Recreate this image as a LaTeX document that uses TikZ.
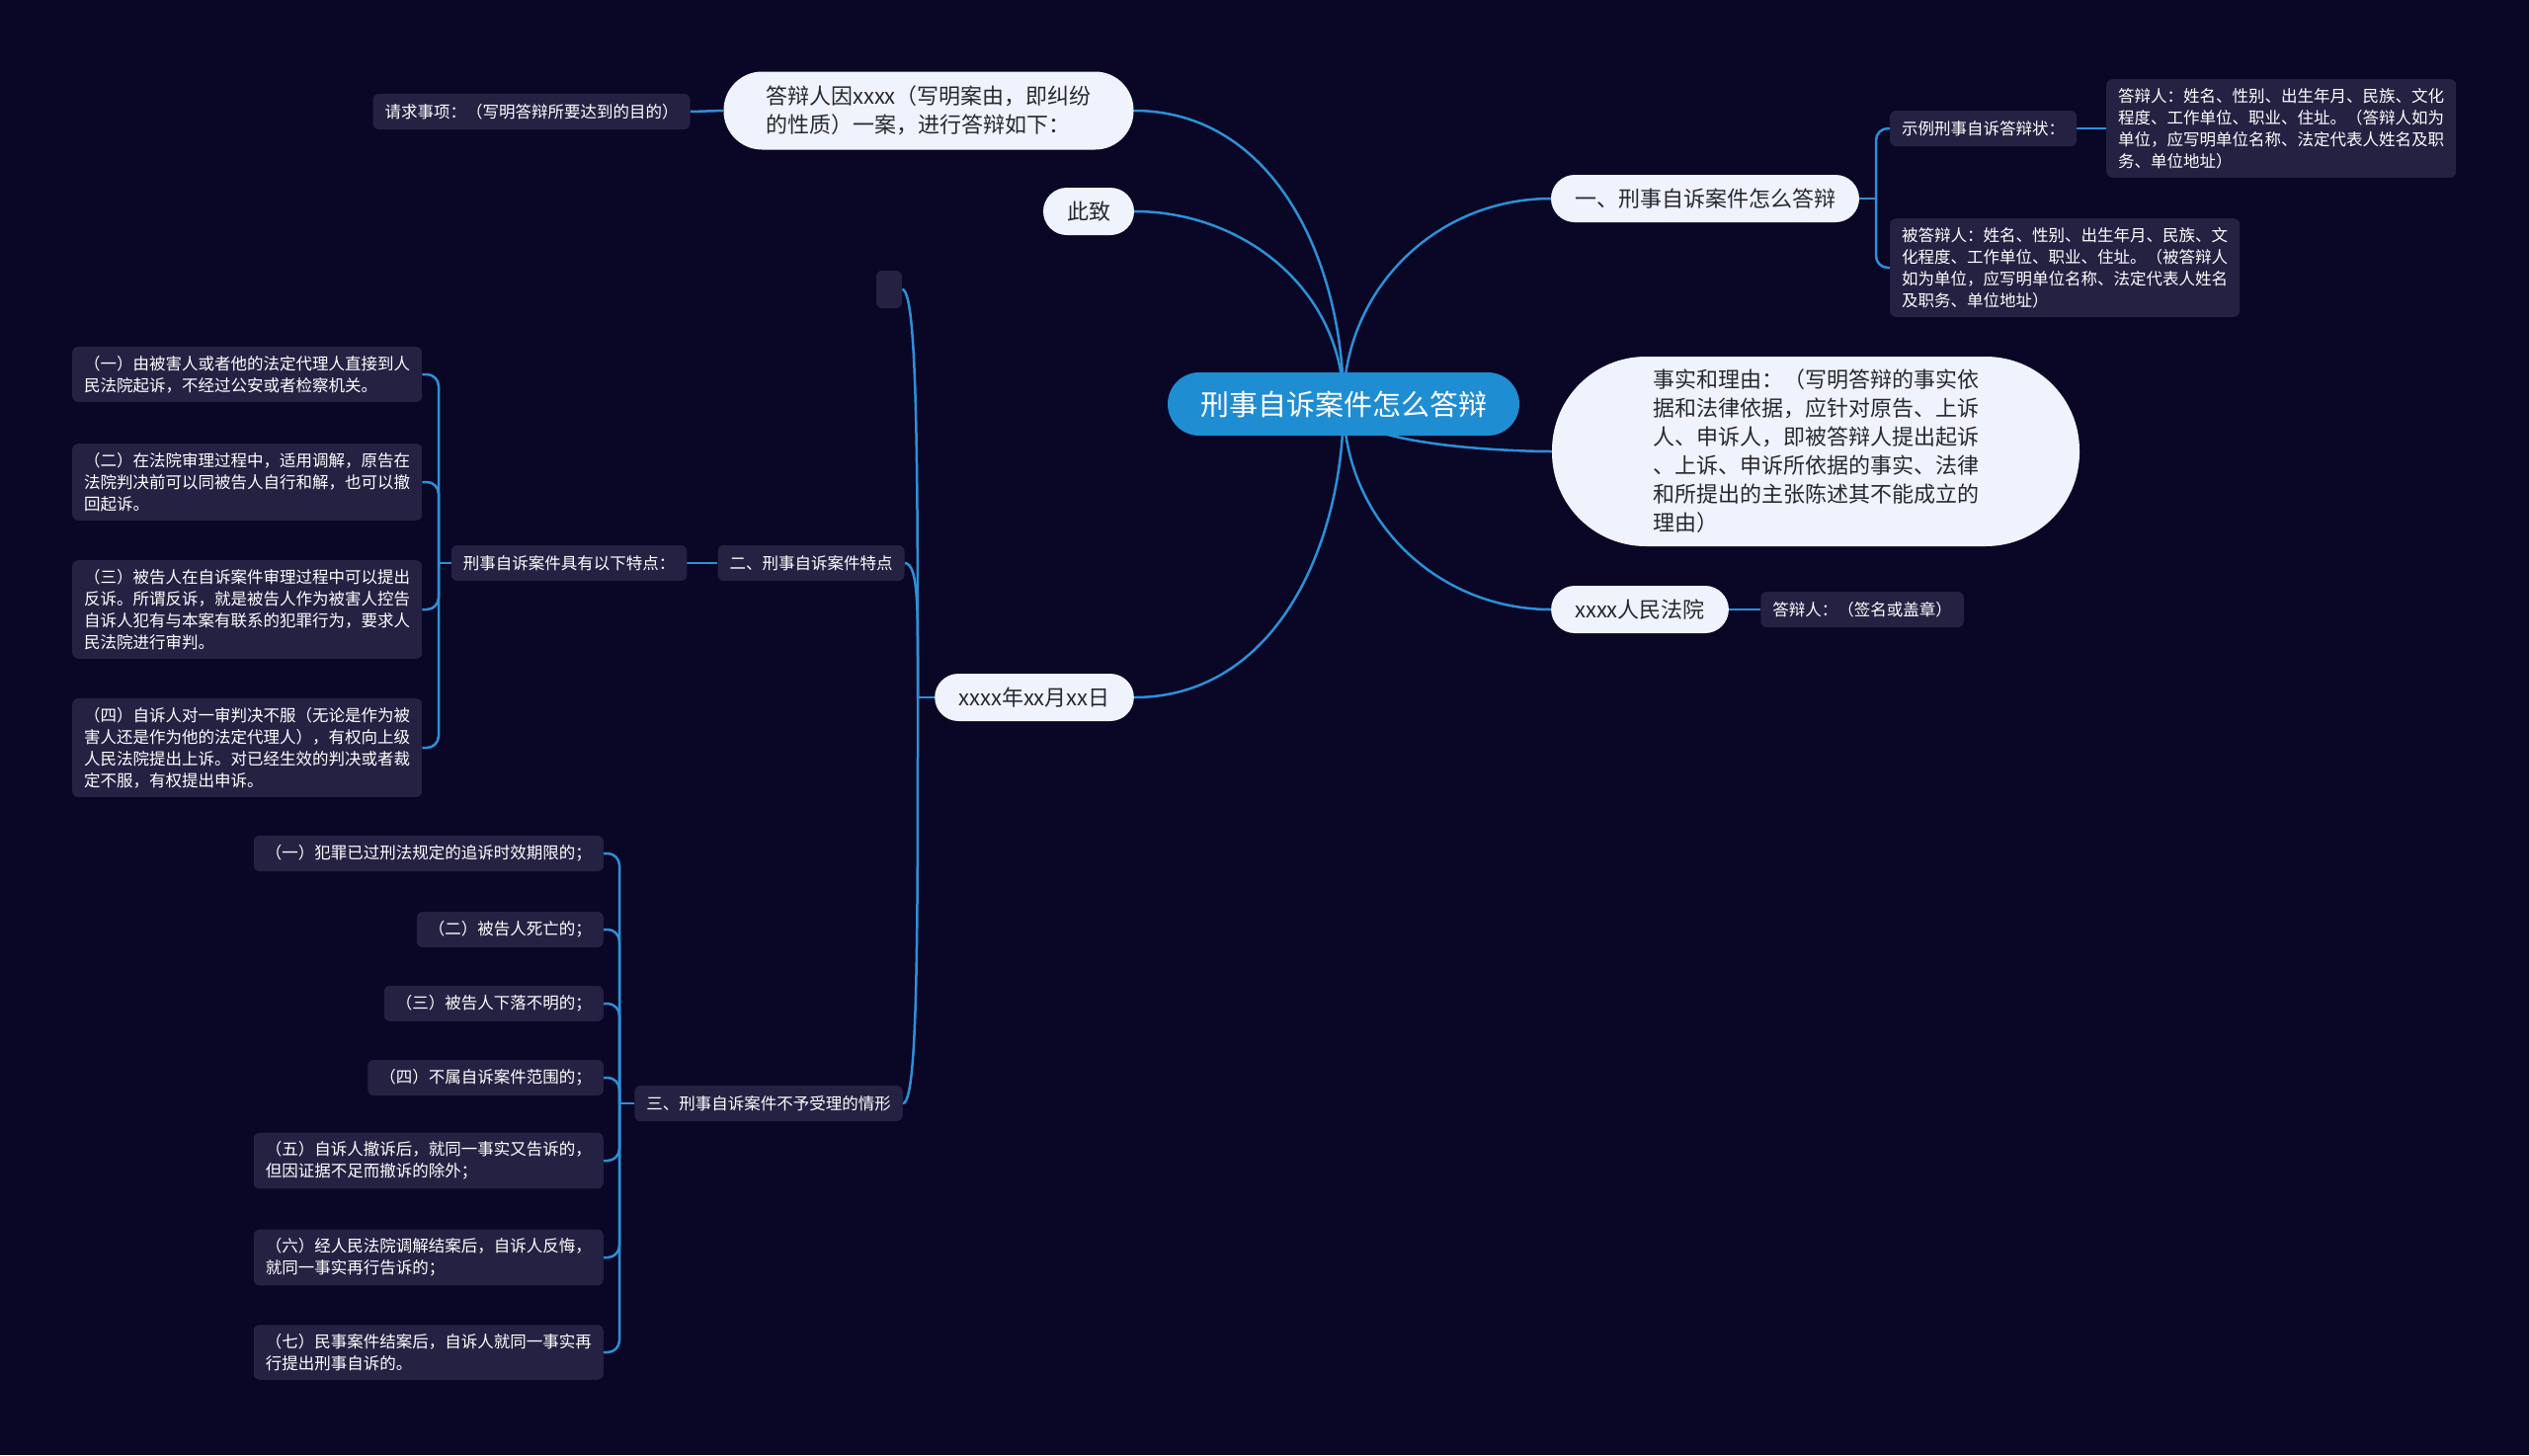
\documentclass[tikz,border=0pt]{standalone}
\usepackage{fontspec}
\setmainfont{Noto Sans CJK SC}
\usetikzlibrary{positioning}
\definecolor{bgc}{RGB}{9,6,38}
\definecolor{boxc}{RGB}{37,33,66}
\definecolor{pillc}{RGB}{238,243,253}
\definecolor{rootc}{RGB}{31,141,210}
\definecolor{linec}{RGB}{44,144,214}
\definecolor{inkc}{RGB}{40,40,48}
\pgfdeclarelayer{back}
\pgfsetlayers{back,main}

\begin{document}
\begin{tikzpicture}[x=1pt, y=-1pt,
    rootbox/.style={fill=rootc, text=white, rounded corners=32pt, minimum width=356pt, minimum height=64pt, inner sep=0pt, font=\fontsize{29}{34}\selectfont},
    pill/.style={fill=pillc, text=inkc, rounded corners=24pt, minimum height=48pt, inner xsep=24pt, inner ysep=12pt, align=left, font=\fontsize{22}{29}\selectfont},
    leaf/.style={fill=boxc, text=white, rounded corners=6pt, minimum height=36pt, inner xsep=12pt, inner ysep=9pt, align=left, font=\fontsize{16.5}{22}\selectfont},
    link/.style={draw=linec, line width=2.5pt}]
    \begin{pgfonlayer}{back}
      \fill[bgc] (0,0) rectangle (2560,1473);
    \end{pgfonlayer}
    \useasboundingbox (0,0) rectangle (2560,1473);
    % centre
    \node[rootbox] (root) at (1360,409) {刑事自诉案件怎么答辩};
    % upper left
    \node[pill, minimum width=415pt, minimum height=79pt, rounded corners=39pt] (reply) at (940,112) {答辩人因xxxx（写明案由，即纠纷\\的性质）一案，进行答辩如下：};
    \node[leaf] (request) at (538,113) {请求事项：（写明答辩所要达到的目的）};
    \node[pill] (salute) at (1102,214) {此致};
    \node[pill] (date) at (1047,706) {xxxx年xx月xx日};
    \node[leaf, minimum width=26pt, minimum height=38pt, inner sep=0pt] (blank) at (900,293) {};
    % features
    \node[leaf] (feat) at (821,570) {二、刑事自诉案件特点};
    \node[leaf] (featlist) at (576,570) {刑事自诉案件具有以下特点：};
    \node[leaf, anchor=west] (f1) at (73,379) {（一）由被害人或者他的法定代理人直接到人\\民法院起诉，不经过公安或者检察机关。};
    \node[leaf, anchor=west] (f2) at (73,488) {（二）在法院审理过程中，适用调解，原告在\\法院判决前可以同被告人自行和解，也可以撤\\回起诉。};
    \node[leaf, anchor=west] (f3) at (73,617) {（三）被告人在自诉案件审理过程中可以提出\\反诉。所谓反诉，就是被告人作为被害人控告\\自诉人犯有与本案有联系的犯罪行为，要求人\\民法院进行审判。};
    \node[leaf, anchor=west] (f4) at (73,757) {（四）自诉人对一审判决不服（无论是作为被\\害人还是作为他的法定代理人），有权向上级\\人民法院提出上诉。对已经生效的判决或者裁\\定不服，有权提出申诉。};
    % rejections
    \node[leaf] (reject) at (778,1117) {三、刑事自诉案件不予受理的情形};
    \node[leaf, anchor=east] (r1) at (611,864) {（一）犯罪已过刑法规定的追诉时效期限的；};
    \node[leaf, anchor=east] (r2) at (611,941) {（二）被告人死亡的；};
    \node[leaf, anchor=east] (r3) at (611,1016) {（三）被告人下落不明的；};
    \node[leaf, anchor=east] (r4) at (611,1091) {（四）不属自诉案件范围的；};
    \node[leaf, anchor=east] (r5) at (611,1175) {（五）自诉人撤诉后，就同一事实又告诉的，\\但因证据不足而撤诉的除外；};
    \node[leaf, anchor=east] (r6) at (611,1273) {（六）经人民法院调解结案后，自诉人反悔，\\就同一事实再行告诉的；};
    \node[leaf, anchor=east] (r7) at (611,1369) {（七）民事案件结案后，自诉人就同一事实再\\行提出刑事自诉的。};
    % right side
    \node[pill] (how) at (1726,201) {一、刑事自诉案件怎么答辩};
    \node[leaf, anchor=west] (sample) at (1913,130) {示例刑事自诉答辩状：};
    \node[leaf, anchor=west] (replier) at (2132,130) {答辩人：姓名、性别、出生年月、民族、文化\\程度、工作单位、职业、住址。（答辩人如为\\单位，应写明单位名称、法定代表人姓名及职\\务、单位地址）};
    \node[leaf, anchor=west] (respondent) at (1913,271) {被答辩人：姓名、性别、出生年月、民族、文\\化程度、工作单位、职业、住址。（被答辩人\\如为单位，应写明单位名称、法定代表人姓名\\及职务、单位地址）};
    \node[pill, minimum width=534pt, minimum height=192pt, rounded corners=95pt] (facts) at (1838,457) {事实和理由：（写明答辩的事实依\\据和法律依据，应针对原告、上诉\\人、申诉人，即被答辩人提出起诉\\、上诉、申诉所依据的事实、法律\\和所提出的主张陈述其不能成立的\\理由）};
    \node[pill] (court) at (1660,617) {xxxx人民法院};
    \node[leaf] (sign) at (1885,617) {答辩人：（签名或盖章）};
    \begin{pgfonlayer}{back}
      % from the centre
      \draw[link] (root.center) .. controls +(0,-143) and +(143,0) .. (reply.east);
      \draw[link] (root.center) .. controls +(0,-113) and +(113,0) .. (salute.east);
      \draw[link] (root.center) .. controls +(0,-116) and +(-116,0) .. (how.west);
      \draw[link] (root.center) .. controls +(0,42) and +(-42,0) .. (facts.west);
      \draw[link] (root.center) .. controls +(0,116) and +(-116,0) .. (court.west);
      \draw[link] (root.center) .. controls +(0,143) and +(143,0) .. (date.east);
      % short links
      \draw[link] (request.east) -- (reply.west);
      \draw[link] (court.east) -- (sign.west);
      \draw[link] (sample.east) -- (replier.west);
      \draw[link] (featlist.east) -- (feat.west);
      % date branch
      \coordinate (dj) at (929,706);
      \draw[link] (date.west) -- (dj);
      \draw[link] (blank.east) .. controls +(15,0) and +(0,-248) .. (dj);
      \draw[link] (feat.east) .. controls +(15,0) and +(0,-82) .. (dj);
      \draw[link] (reject.east) .. controls +(15,0) and +(0,246) .. (dj);
      % feature list
      \coordinate (fj) at (444,570);
      \draw[link] (featlist.west) -- (fj);
      \foreach \n in {f1,f2,f3,f4}{\draw[link, rounded corners=12pt] (fj) |- (\n.east);}
      % rejection list
      \coordinate (rj) at (627,1117);
      \draw[link] (reject.west) -- (rj);
      \foreach \n in {r1,r2,r3,r4,r5,r6,r7}{\draw[link, rounded corners=12pt] (rj) |- (\n.east);}
      % how branch
      \coordinate (hj) at (1899,201);
      \draw[link] (how.east) -- (hj);
      \draw[link, rounded corners=12pt] (hj) |- (sample.west);
      \draw[link, rounded corners=12pt] (hj) |- (respondent.west);
    \end{pgfonlayer}
\end{tikzpicture}
\end{document}
